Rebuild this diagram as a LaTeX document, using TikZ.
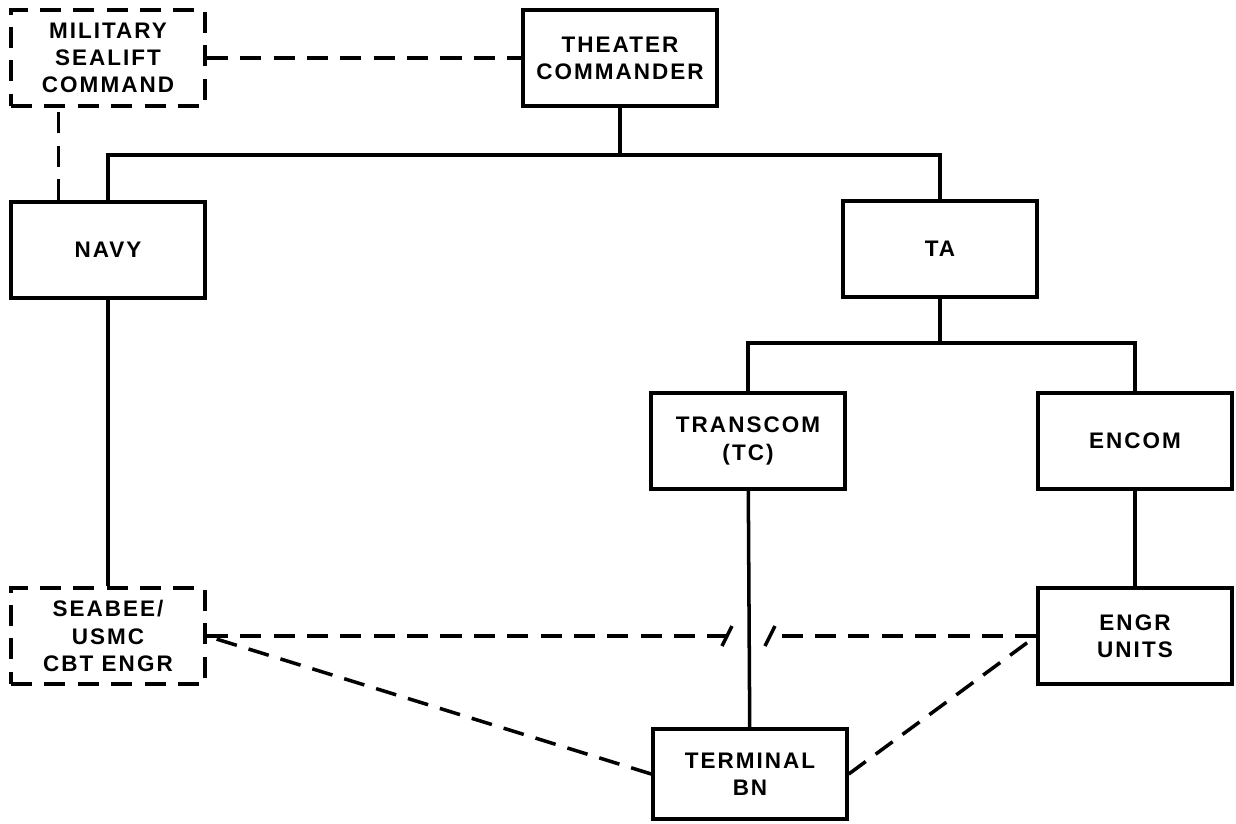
\documentclass[tikz,border=0pt]{standalone}
\usepackage{fontspec}
\newfontfamily\orgfont{Liberation Sans Bold}[LetterSpace=9]
\usepackage{tikz}
\usetikzlibrary{calc}
\usetikzlibrary{arrows,shapes,positioning}

\begin{document}
\begin{tikzpicture}[x=0.02cm,y=-0.02cm,
        unit/.style={draw,line width=2pt,minimum width=3.88cm,minimum height=1.92cm,
            inner sep=0pt,align=center,font=\orgfont\fontsize{12.8}{15.5}\selectfont},
        dashunit/.style={unit,dash pattern=on 12pt off 7pt},
        link/.style={line width=2pt},
        dlink/.style={line width=2pt,dash pattern=on 12pt off 7pt}]
        \useasboundingbox (0,0) rectangle (1236,823);
        % Command levels
        \node[dashunit] (msc) at (108,58) {MILITARY\\SEALIFT\\COMMAND};
        \node[unit] (tc) at (620,58) {THEATER\\COMMANDER};
        \node[unit] (navy) at (108,250) {NAVY};
        \node[unit] (ta) at (940,249) {TA};
        \node[unit] (transcom) at (748,441) {TRANSCOM\\(TC)};
        \node[unit] (encom) at (1135,441) {ENCOM};
        \node[dashunit] (seabee) at (108,636) {SEABEE/\\USMC\\CBT ENGR};
        \node[unit] (engr) at (1135,636) {ENGR\\UNITS};
        \node[unit,minimum height=1.8cm] (termbn) at (750,774) {TERMINAL\\BN};
        % Solid command lines
        \coordinate (tcbus) at (620,155);
        \coordinate (tabus) at (940,343);
        \draw[link] (tc) -- (tcbus);
        \draw[link] (navy.north) |- (tcbus) -| (ta.north);
        \draw[link] (ta) -- (tabus);
        \draw[link] (transcom.north) |- (tabus) -| (encom.north);
        \draw[link] (navy) -- (seabee);
        \draw[link] (transcom) -- (termbn);
        \draw[link] (encom) -- (engr);
        % Dashed coordination lines
        \draw[dlink] (msc.east) -- (tc.west);
        \draw[dlink] ($(navy.north west)!0.25!(navy.north east)$) -- ($(msc.south west)!0.25!(msc.south east)$);
        \coordinate (brkL) at (727,636);
        \coordinate (brkR) at (770,636);
        \draw[dlink] (seabee.east) -- (brkL);
        \draw[dlink] (engr.west) -- (brkR);
        \foreach \brk in {brkL,brkR} {
            \draw[link] ($(\brk)+(-5,10)$) -- ($(\brk)+(5,-10)$);
        }
        \draw[dlink] (termbn.west) -- (seabee.east);
        \draw[dlink] (termbn.east) -- (engr.west);
    \end{tikzpicture}
\end{document}
